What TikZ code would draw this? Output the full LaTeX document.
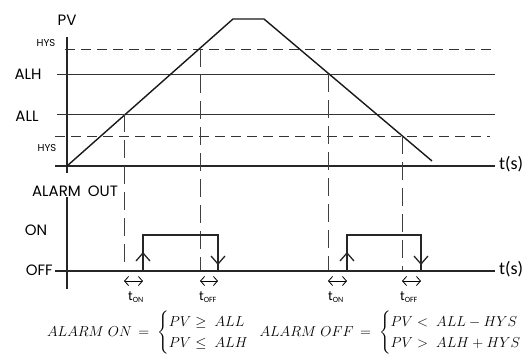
\documentclass[tikz,border=0pt]{standalone}
\usepackage{fontspec}
\usepackage{amsmath}
\setmainfont{Poppins}
\newfontfamily\tfont{Carlito}
\usetikzlibrary{arrows.meta}
\begin{document}
\begin{tikzpicture}[x=1pt,y=-1pt,
  axis/.style={line width=1.3pt,color=black!85},
  lvl/.style={line width=0.9pt,color=black!80},
  hysl/.style={line width=0.9pt,color=black!80,dash pattern=on 10pt off 6pt},
  vdash/.style={line width=0.9pt,color=black!75,dash pattern=on 18pt off 8pt},
  pv/.style={line width=1.4pt,color=black!90},
  pulse/.style={line width=1.8pt,color=black!85},
  chev/.style={line width=1.3pt,color=black!85},
  dbl/.style={line width=0.8pt,{Straight Barb[length=4pt,width=9pt]}-{Straight Barb[length=4pt,width=9pt]}},
  lab/.style={inner sep=0pt,font=\fontsize{15}{16}\selectfont},
  slab/.style={inner sep=0pt,font=\fontsize{10}{11}\selectfont},
  tlab/.style={inner sep=0pt,font=\tfont\fontsize{18}{19}\selectfont},
  sub/.style={inner sep=0pt,font=\tfont\fontsize{14}{15}\selectfont}]
\useasboundingbox (0,0) rectangle (529,361);
% top graph
\coordinate (yt) at (67,37); \coordinate (yb) at (67,173);
\draw[axis] (yt) -- (yb);
\coordinate (xl) at (55,166); \coordinate (xr) at (495,166);
\draw[axis] (xl) -- (xr);
\node[tlab,anchor=west] (ts1) at (499,164) {t(s)};
\draw[hysl] (65,49) -- (495,49);
\draw[lvl] (57,74) -- (495,74);
\draw[lvl] (57,114) -- (495,114);
\draw[hysl] (55,136) -- (490,136);
\node[lab] (pvl) at (67,20) {PV};
\node[slab] (hys1) at (46,43) {HYS};
\node[lab] (alh) at (28,74) {ALH};
\node[lab] (all) at (27,116) {ALL};
\node[slab] (hys2) at (47,148) {HYS};
\draw[pv] (67,166) -- (233,19) -- (264,19) -- (432,161);
% vertical dashed
\draw[vdash] (124,114) -- (124,271);
\draw[vdash] (200,49) -- (200,271);
\draw[vdash] (328,74) -- (328,271);
\draw[vdash] (402,136) -- (402,271);
% lower graph
\draw[axis] (67,197) -- (67,289);
\draw[axis] (55,271) -- (495,271);
\node[tlab,anchor=west] (ts2) at (499,269) {t(s)};
\node[lab] (aout) at (75,191) {ALARM\hspace{3pt} OUT};
\node[lab] (on) at (36,230) {ON};
\node[lab,anchor=east] (off) at (53,270) {OFF};
\draw[pulse] (143,271) -- (143,235) -- (218,235) -- (218,271);
\draw[pulse] (347,271) -- (347,235) -- (421,235) -- (421,271);
\draw[chev] (136,261) -- (143,253) -- (150,261);
\draw[chev] (211,256) -- (218,264) -- (225,256);
\draw[chev] (340,261) -- (347,253) -- (354,261);
\draw[chev] (414,256) -- (421,264) -- (428,256);
\draw[dbl] (124,281) -- (143,281);
\draw[dbl] (200,281) -- (218,281);
\draw[dbl] (328,281) -- (347,281);
\draw[dbl] (402,281) -- (421,281);
\node[sub] (ton1) at (136,297) {t\textsubscript{\fontsize{8}{8}\selectfont ON}};
\node[sub] (toff1) at (208,297) {t\textsubscript{\fontsize{8}{8}\selectfont OFF}};
\node[sub] (ton2) at (336,297) {t\textsubscript{\fontsize{8}{8}\selectfont ON}};
\node[sub] (toff2) at (409,297) {t\textsubscript{\fontsize{8}{8}\selectfont OFF}};
% equation
\node[inner sep=0pt,font=\fontsize{15.5}{17}\selectfont] (eq) at (292,333) {$ALARM\ ON\,=\;\begin{cases}PV\geq\ ALL\\ PV\leq\ ALH\end{cases}\!\!\!ALARM\ OFF\,=\;\begin{cases}PV<\ ALL-HYS\\ PV>\ ALH+HYS\end{cases}$};
\end{tikzpicture}
\end{document}
